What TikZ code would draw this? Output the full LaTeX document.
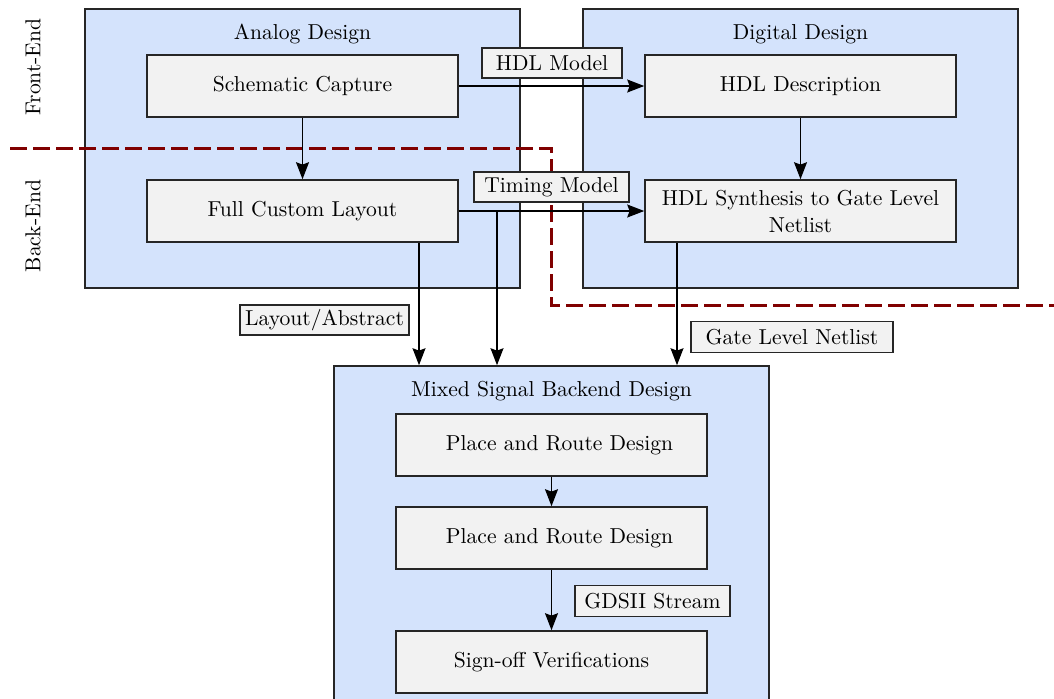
\documentclass[tikz,border=0pt]{standalone}
\usetikzlibrary{arrows.meta}
\definecolor{grpblue}{RGB}{212,227,252}
\definecolor{boxgray}{RGB}{242,242,242}
\definecolor{dashred}{RGB}{128,0,0}
\begin{document}
\begin{tikzpicture}[x=0.5pt,y=-0.5pt,
  every node/.style={font=\fontsize{10.8}{13}\selectfont},
  group/.style={draw=black!85,fill=grpblue,line width=0.8pt,inner sep=0pt},
  stepbox/.style={draw=black!85,fill=boxgray,line width=0.8pt,inner sep=0pt,minimum width=155.5pt,minimum height=31pt,align=center},
  tag/.style={draw=black!85,fill=boxgray,line width=0.7pt,inner sep=0pt,minimum height=15pt},
  title/.style={inner sep=0pt},
  arr/.style={line width=0.6pt,-{Stealth[length=8.5pt,width=6.5pt,inset=1.2pt]}},
  dashline/.style={draw=dashred,line width=1.5pt,dash pattern=on 8.5pt off 3pt}]
\useasboundingbox (0,0) rectangle (1054,698);
% group boxes
\node[group,minimum width=217.5pt,minimum height=139.5pt] (ana) at (302.5,148.5) {};
\node[group,minimum width=217.5pt,minimum height=139.5pt] (dig) at (800.5,148.5) {};
\node[group,minimum width=217.5pt,minimum height=190pt] (mix) at (551.5,556) {};
\node[title] (anat) at (302.5,34) {Analog Design};
\node[title] (digt) at (800.5,34) {Digital Design};
\node[title] (mixt) at (551.5,391) {Mixed Signal Backend Design};
% side labels
\node[title,rotate=90] (fe) at (33,67) {Front-End};
\node[title,rotate=90] (be) at (33,226) {Back-End};
% dashed separator
\draw[dashline] (10,148) -- (551,148) -- (551,305) -- (1054,305);
% steps
\node[stepbox] (sc) at (302.5,86) {Schematic Capture};
\node[stepbox] (fcl) at (302.5,211) {Full Custom Layout};
\node[stepbox] (hd) at (800.5,86) {HDL Description};
\node[stepbox] (syn) at (800.5,211) {HDL Synthesis to Gate Level\\[0.5pt]Netlist};
\node[stepbox] (pr1) at (551.5,445) {\hspace*{8pt}Place and Route Design};
\node[stepbox] (pr2) at (551.5,538) {\hspace*{8pt}Place and Route Design};
\node[stepbox] (so) at (551.5,662) {Sign-off Verifications};
% helper x positions
\coordinate (xl) at (419,0);
\coordinate (xt) at (497,0);
\coordinate (xg) at (677,0);
% connectors
\draw[arr] (sc) -- (fcl);
\draw[arr] (hd) -- (syn);
\draw[arr] (sc.east) -- (hd.west);
\draw[arr] (fcl.east) -- (syn.west);
\draw[arr] (fcl.south -| xl) -- (mix.north -| xl);
\draw[arr] (fcl.east -| xt) -- (mix.north -| xt);
\draw[arr] (syn.south -| xg) -- (mix.north -| xg);
\draw[arr] (pr1) -- (pr2);
\draw[arr] (pr2) -- (so);
% tags
\node[tag,minimum width=70pt] (thm) at (552,63) {HDL Model};
\node[tag,minimum width=77.5pt] (ttm) at (551.5,187) {Timing Model};
\node[tag,minimum width=84.5pt] (tla) at (324.5,320) {Layout/Abstract};
\node[tag,minimum width=101pt,minimum height=15.5pt] (tgl) at (792,337) {Gate Level Netlist};
\node[tag,minimum width=77.5pt,minimum height=15.5pt] (tgd) at (652.5,601) {GDSII Stream};
\end{tikzpicture}
\end{document}
